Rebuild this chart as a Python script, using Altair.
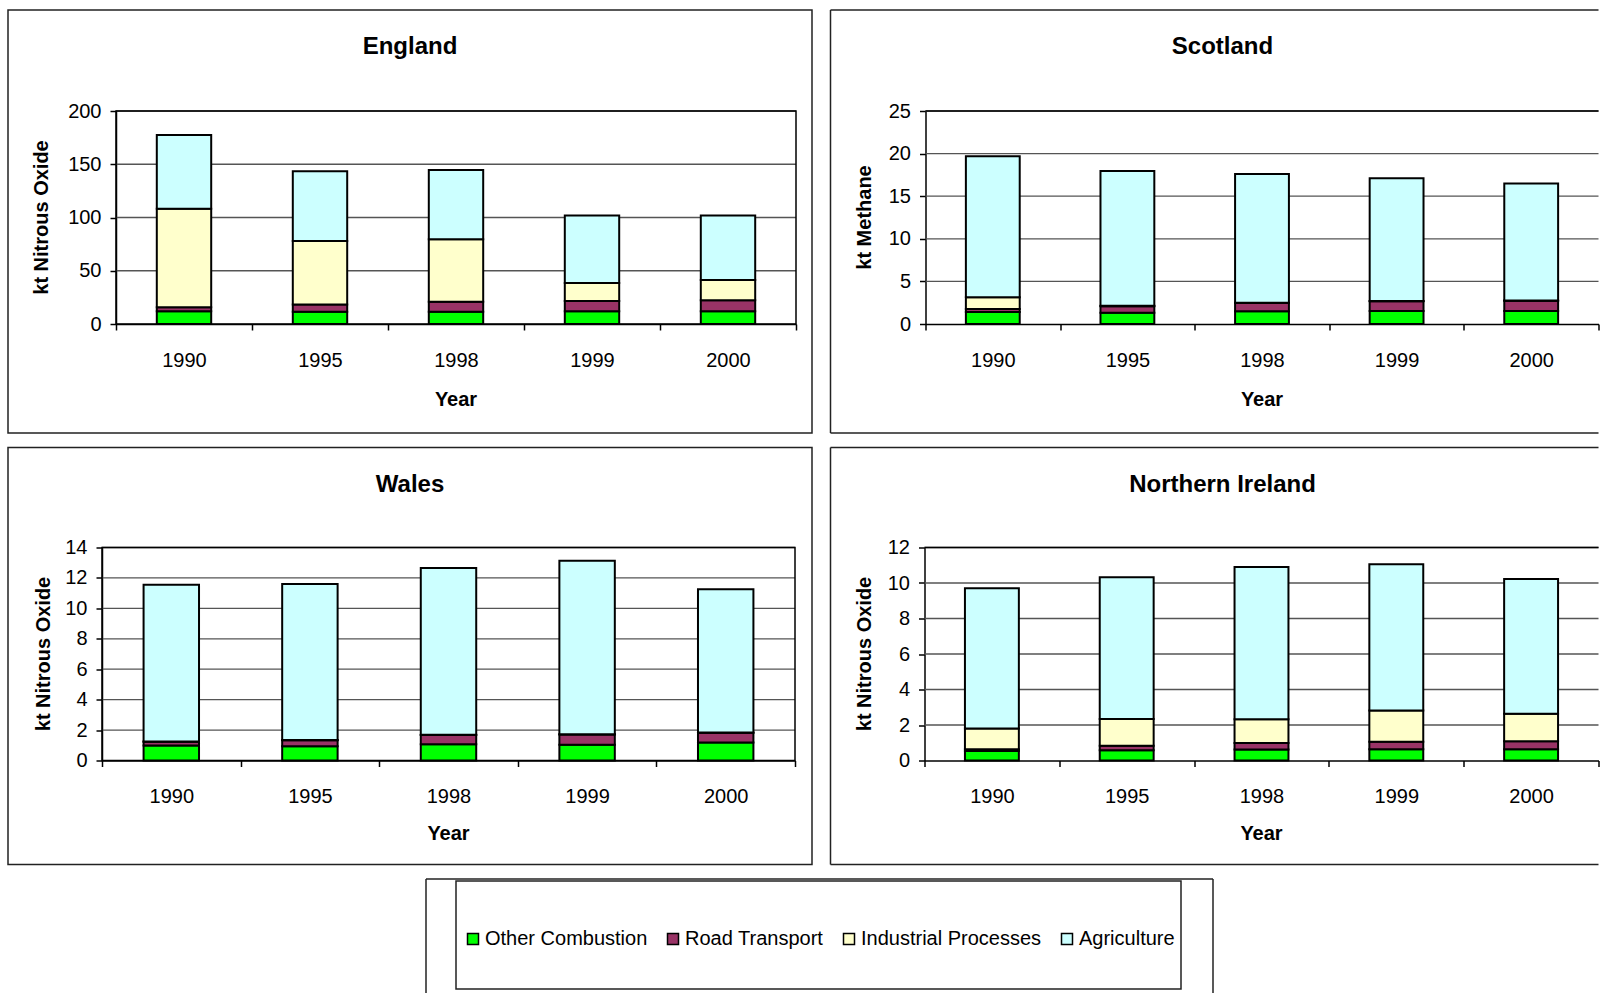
import altair as alt
import pandas as pd

years = ["1990", "1995", "1998", "1999", "2000"]
sectors = ["Other Combustion", "Road Transport", "Industrial Processes", "Agriculture"]
sector_colors = ["#00FF00", "#993366", "#FFFFCC", "#CCFFFF"]

# kt emitted per sector, one value per year
england = {
    "Other Combustion": [11.9, 11.6, 11.6, 12.0, 12.0],
    "Road Transport": [3.8, 6.6, 9.4, 9.7, 10.3],
    "Industrial Processes": [92.5, 59.8, 58.6, 16.7, 18.9],
    "Agriculture": [69.2, 65.4, 65.1, 63.5, 60.7],
}
scotland = {
    "Other Combustion": [1.41, 1.33, 1.49, 1.53, 1.53],
    "Road Transport": [0.35, 0.75, 0.98, 1.14, 1.21],
    "Industrial Processes": [1.38, 0.05, 0.03, 0.03, 0.03],
    "Agriculture": [16.56, 15.83, 15.10, 14.40, 13.73],
}
wales = {
    "Other Combustion": [0.98, 0.94, 1.07, 1.03, 1.18],
    "Road Transport": [0.25, 0.39, 0.61, 0.68, 0.64],
    "Industrial Processes": [0.02, 0.02, 0.02, 0.02, 0.02],
    "Agriculture": [10.30, 10.25, 10.95, 11.40, 9.41],
}
northern_ireland = {
    "Other Combustion": [0.53, 0.58, 0.62, 0.64, 0.64],
    "Road Transport": [0.11, 0.25, 0.37, 0.41, 0.45],
    "Industrial Processes": [1.16, 1.51, 1.34, 1.76, 1.55],
    "Agriculture": [7.90, 7.98, 8.57, 8.24, 7.58],
}

FONT = "Liberation Sans"
PLOT_H = 213
LINE = "#222222"
GRID = "#555555"
ONE = pd.DataFrame({"k": [0]})


def long_table(series):
    rows = []
    for idx, sector in enumerate(sectors):
        for year, value in zip(years, series[sector]):
            rows.append({"year": year, "sector": sector, "value": value, "idx": idx})
    return pd.DataFrame(rows)


def hline(x0, x1, y, color=LINE, width=1.5):
    return alt.Chart(ONE).mark_rule(color=color, strokeWidth=width).encode(
        x=alt.value(x0), x2=alt.value(x1), y=alt.value(y))


def vline(x, y0, y1, color=LINE, width=1.5):
    return alt.Chart(ONE).mark_rule(color=color, strokeWidth=width).encode(
        x=alt.value(x), y=alt.value(y0), y2=alt.value(y1))


def box(x0, x1, y0, y1, color=LINE, width=1.5):
    return alt.Chart(ONE).mark_rect(filled=False, stroke=color, strokeWidth=width).encode(
        x=alt.value(x0), x2=alt.value(x1), y=alt.value(y0), y2=alt.value(y1))


def label(text, x, y, size=20, angle=0):
    return alt.Chart(pd.DataFrame({"t": [text]})).mark_text(
        font=FONT, fontSize=size, fontWeight="bold", align="center",
        baseline="alphabetic", color="black", angle=angle,
    ).encode(x=alt.value(x), y=alt.value(y), text="t:N")


def panel(name, series, y_title, y_max, y_step, x0, x1, frame, title_x,
          title_y, y_title_x, x_title_y, clipped):
    """x0..x1 is the drawn plot area; the layout origin sits at x = 0."""
    left, right, top, bottom = frame
    ticks = list(range(0, y_max + 1, y_step))
    y_scale = alt.Scale(domain=[0, y_max], nice=False)
    y_axis = alt.Axis(values=ticks, tickSize=6, labelPadding=9, grid=False,
                      offset=-x0)

    # horizontal gridlines at the tick values, spanning the drawn plot area
    grid = alt.Chart(pd.DataFrame({"value": ticks[1:]})).mark_rule(
        color=GRID, strokeWidth=1.3
    ).encode(
        y=alt.Y("value:Q", title=None, scale=y_scale, axis=y_axis),
        x=alt.value(x0), x2=alt.value(x1),
    )

    if clipped:
        # panel runs past the right edge of the page: no right-hand borders
        outline = [hline(left, right, top), vline(left, top, bottom),
                   hline(left, right, bottom)]
        plot_frame = [hline(x0, x1, 0, "black")]
    else:
        outline = [box(left, right, top, bottom)]
        plot_frame = [box(x0, x1, 0, PLOT_H, "black")]

    bars = alt.Chart(long_table(series)).mark_bar(
        width=alt.RelativeBandSize(0.4), stroke="black", strokeWidth=2
    ).encode(
        x=alt.X(
            "year:N", sort=years, title=None,
            scale=alt.Scale(range=[x0, x1], paddingInner=0, paddingOuter=0),
            axis=alt.Axis(tickBand="extent", labelAngle=0, grid=False,
                          tickSize=6, labelPadding=20),
        ),
        y=alt.Y("value:Q", stack="zero", title=None, scale=y_scale, axis=y_axis),
        color=alt.Color(
            "sector:N",
            scale=alt.Scale(domain=sectors, range=sector_colors),
            legend=None,
        ),
        order=alt.Order("idx:Q", sort="ascending"),
    )

    texts = [
        label(name, title_x, title_y, size=24),
        label("Year", (x0 + x1) / 2, PLOT_H + x_title_y),
        label(y_title, y_title_x, PLOT_H / 2, angle=270),
    ]
    return alt.layer(*outline, grid, *plot_frame, bars, *texts).properties(
        width=x1, height=PLOT_H)


eng = panel("England", england, "kt Nitrous Oxide", 200, 50, 0, 680,
            (-108, 696, -101, 322), 294, -57, -68, 82, False)
sco = panel("Scotland", scotland, "kt Methane", 25, 5, 0, 673,
            (-95, 673, -101, 322), 297, -57, -55, 82, True)
wal = panel("Wales", wales, "kt Nitrous Oxide", 14, 2, -14, 679,
            (-108, 696, -100, 317), 294, -56, -66, 79, False)
nir = panel("Northern Ireland", northern_ireland, "kt Nitrous Oxide", 12, 2, 0, 674,
            (-94, 674, -100, 317), 298, -56, -54, 79, True)

# legend strip: an outer frame running off the bottom, an inner box, and the key
LEG_H = 114
swatches = alt.Chart(pd.DataFrame({"sector": sectors})).mark_rect(
    stroke="black", strokeWidth=1.5
).encode(
    x=alt.value(350), x2=alt.value(350), y=alt.value(40), y2=alt.value(40),
    color=alt.Color(
        "sector:N", title=None,
        scale=alt.Scale(domain=sectors, range=sector_colors),
        legend=alt.Legend(
            orient="none", legendX=347, legendY=50, direction="horizontal",
            symbolType="square", symbolSize=121, symbolStrokeColor="black",
            symbolStrokeWidth=1.5, symbolOpacity=1, labelFontSize=20,
            labelFont=FONT, labelColor="black", labelLimit=400,
            columnPadding=15, labelOffset=2, padding=0,
        ),
    ),
)
legend_strip = alt.layer(
    hline(310, 1097, 0), vline(310, 0, LEG_H), vline(1097, 0, LEG_H),
    box(340, 1065, 2, 110),
    swatches,
).properties(width=1100, height=LEG_H)

chart = alt.vconcat(
    alt.hconcat(eng, sco, spacing=16.5),
    alt.hconcat(wal, nir, spacing=16.5),
    legend_strip,
    spacing=12.5,
).resolve_scale(color="independent").resolve_legend(color="independent").properties(
    padding={"left": 7, "top": 9, "right": 0, "bottom": 0},
    background="white",
).configure_view(
    strokeWidth=0
).configure_axis(
    labelFont=FONT, labelFontSize=20, labelColor="black",
    domainColor="black", domainWidth=1.5, tickColor="black", tickWidth=1.5,
)

chart.save("out.html", embed_options={"renderer": "svg", "actions": False})
